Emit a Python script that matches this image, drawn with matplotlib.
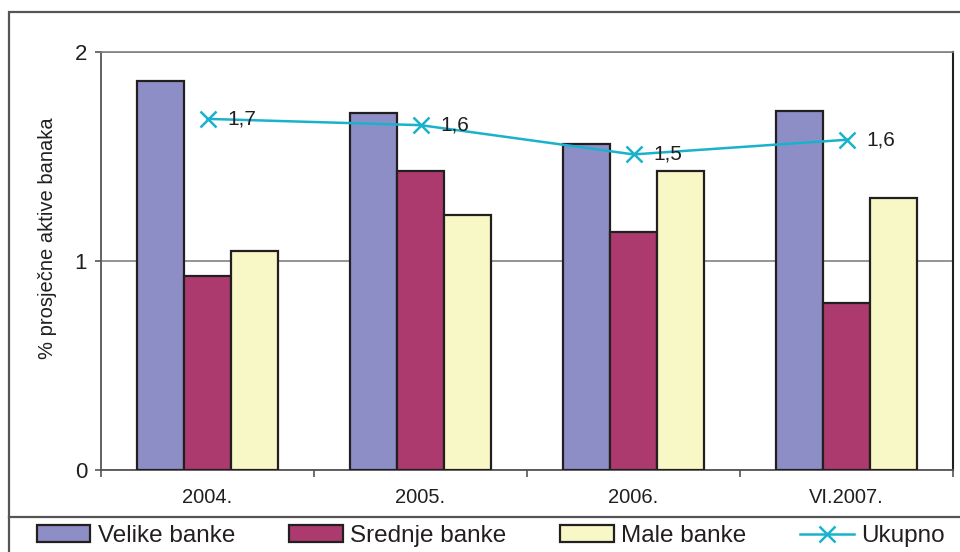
import matplotlib
matplotlib.use("Agg")
import matplotlib.pyplot as plt
import numpy as np
from matplotlib.patches import Rectangle
from matplotlib.lines import Line2D

plt.rcParams['font.family'] = ['Liberation Sans', 'DejaVu Sans']

categories = ["2004.", "2005.", "2006.", "VI.2007."]
velike = [1.86, 1.71, 1.56, 1.72]
srednje = [0.93, 1.43, 1.14, 0.80]
male = [1.05, 1.22, 1.43, 1.30]
ukupno = [1.68, 1.65, 1.51, 1.58]
ukupno_labels = ["1,7", "1,6", "1,5", "1,6"]
series_names = ["Velike banke", "Srednje banke", "Male banke", "Ukupno"]
y_label = "% prosječne aktive banaka"

c_velike = "#8E8EC6"
c_srednje = "#AD3A6E"
c_male = "#F8F7C6"
c_line = "#1AB2CB"
txt = "#231F20"

W, H = 960, 552
fig = plt.figure(figsize=(W / 100, H / 100), dpi=100)

# outer frame and legend separator
frame = Rectangle((9 / W, -0.05), 1.0, 1 - 12 / H + 0.05, transform=fig.transFigure,
                  fill=False, edgecolor="#555555", linewidth=1.6)
fig.patches.append(frame)
fig.add_artist(Line2D([9 / W, 1.0], [1 - 517 / H] * 2, transform=fig.transFigure,
                      color="#555555", linewidth=1.6))

ax = fig.add_axes([101 / W, 1 - 470 / H, (953 - 101) / W, (470 - 52) / H])

x = np.arange(len(categories))
bw = 0.222
kw = dict(edgecolor="#231F20", linewidth=1.6, zorder=3)
b1 = ax.bar(x - bw, velike, bw, color=c_velike, **kw)
b2 = ax.bar(x, srednje, bw, color=c_srednje, **kw)
b3 = ax.bar(x + bw, male, bw, color=c_male, **kw)
ln, = ax.plot(x, ukupno, color=c_line, linewidth=1.8, marker="x", markersize=11,
              markeredgewidth=1.8, zorder=4)
for xi, yi, lab in zip(x, ukupno, ukupno_labels):
    ax.annotate(lab, (xi, yi), xytext=(14, 0), textcoords="offset points",
                va="center", ha="left", fontsize=15, color=txt, zorder=5)

ax.set_xlim(-0.5, len(categories) - 0.5)
ax.set_ylim(0, 2)
ax.set_yticks([0, 1, 2])
ax.set_yticklabels(["0", "1", "2"])
ax.yaxis.grid(True, color="#808080", linewidth=1.2, zorder=0)
ax.set_axisbelow(True)

ax.set_xticks(x)
ax.set_xticklabels(categories)
ax.set_xticks(np.arange(-0.5, len(categories)), minor=True)
ax.tick_params(axis="x", which="major", length=0, pad=13, labelsize=14.5, labelcolor=txt)
ax.tick_params(axis="x", which="minor", length=5, width=1.2, color="#555555")
ax.tick_params(axis="y", length=4, width=1.2, color="#555555", pad=6, labelsize=16, labelcolor=txt)

for side in ["left", "bottom"]:
    ax.spines[side].set_color("#555555")
    ax.spines[side].set_linewidth(1.3)
ax.spines["top"].set_color("#808080")
ax.spines["top"].set_linewidth(1.2)
ax.spines["right"].set_color("#231F20")
ax.spines["right"].set_linewidth(1.5)

ax.set_ylabel(y_label, fontsize=14.5, color=txt)
ax.yaxis.set_label_coords(-44 / (953 - 101), (470 - 238) / (470 - 52))

leg = fig.legend([b1, b2, b3, ln], series_names, loc="center left",
                 bbox_to_anchor=(37 / W, 1 - 536 / H),
                 ncol=4, frameon=False, fontsize=17.5, handlelength=2.2, handleheight=0.7,
                 handletextpad=0.3, columnspacing=2.22, borderaxespad=0, borderpad=0)
for t in leg.get_texts():
    t.set_color(txt)

fig.savefig("out.png", dpi=100)
